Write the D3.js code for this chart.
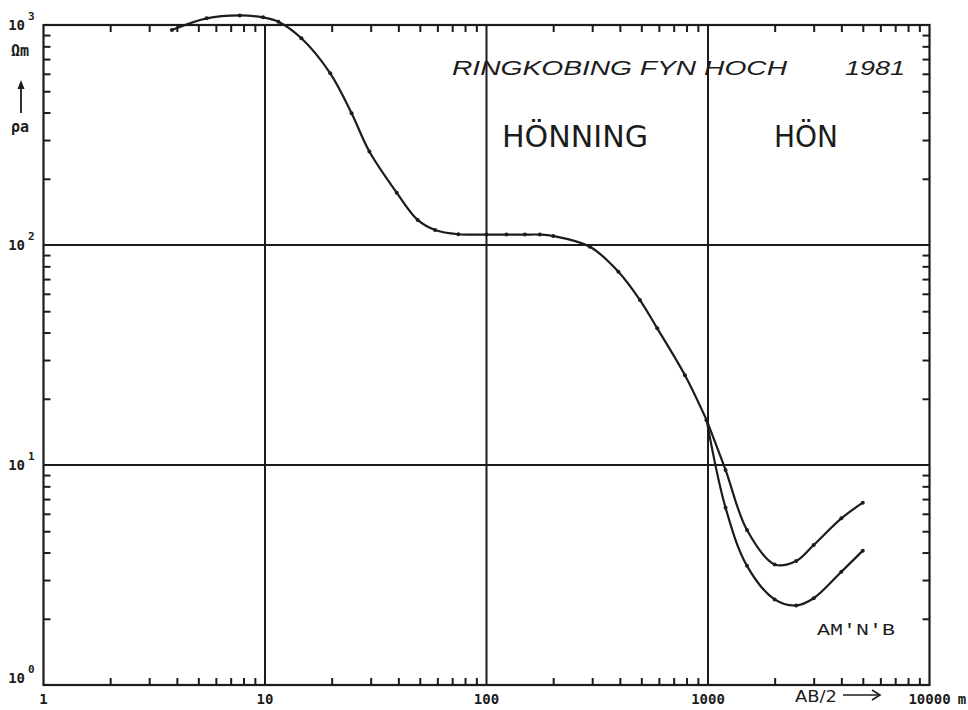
<!DOCTYPE html>
<html>
<head>
<meta charset="utf-8">
<script src="https://cdn.jsdelivr.net/npm/d3@7"></script>
<style>
  html, body { margin: 0; padding: 0; background: #ffffff; }
  svg { display: block; }
</style>
</head>
<body>
<svg id="chart" width="968" height="710"></svg>
<script>
// ---- data ----
const xDecades = [1, 10, 100, 1000, 10000];
const xDecadeLabels = ["1", "10", "100", "1000", "10000"];
const yDecades = [1, 10, 100, 1000];
const yDecadeExponents = ["0", "1", "2", "3"];

// common branch AB/2 (m) and apparent resistivity (Ohm m)
const mainX = [3.8, 5.45, 7.7, 9.8, 11.5, 14.6, 19.7, 24.6, 29.6, 39.3, 48.9, 58.6, 74.6, 100, 123, 149, 174, 200, 293, 394, 493, 590, 787, 986];
const mainY = [949, 1072, 1105, 1084, 1035, 870, 603, 397, 266, 173, 130, 117, 111.9, 111.5, 111.5, 111.5, 111.5, 109.9, 98.2, 75.6, 56.2, 41.8, 25.6, 16.0];

// upper branch after the split
const upperX = [1200, 1500, 2000, 2500, 3000, 4000, 5000];
const upperY = [9.5, 5.06, 3.53, 3.66, 4.33, 5.72, 6.74];

// lower branch after the split (AM'N'B)
const lowerX = [1200, 1500, 2000, 2500, 3000, 4000, 5000];
const lowerY = [6.4, 3.48, 2.45, 2.30, 2.48, 3.27, 4.08];

const titleText = "RINGKOBING FYN HOCH";
const yearText = "1981";
const leftLabel = "HÖNNING";
const rightLabel = "HÖN";
const curveLabel = "AM'N'B";
const xAxisTitle = "AB/2";
const xUnit = "m";
const yUnit = "Ωm";
const yAxisTitle = "ρa";

// ---- drawing ----
const ink = "#1c1c1c";
const svg = d3.select("#chart");

const x = d3.scaleLog().domain([1, 10000]).range([43.5, 929.5]);
const y = d3.scaleLog().domain([1, 1000]).range([685, 25]);

const [x0, x1] = x.range();
const [y0, y1] = y.range();

// minor ticks from the scales
const isDecade = v => Math.abs(Math.log10(v) - Math.round(Math.log10(v))) < 1e-9;
const xMinor = x.ticks().filter(v => !isDecade(v));
const yMinor = y.ticks().filter(v => !isDecade(v));

function styleAxis(g) {
  g.select(".domain").remove();
  g.selectAll(".tick line").attr("stroke", ink).attr("stroke-width", 2);
  g.selectAll(".tick text").remove();
}

svg.append("g").attr("transform", `translate(0,${y0})`)
  .call(d3.axisBottom(x).tickValues(xMinor).tickSize(-7).tickFormat(""))
  .call(styleAxis);
svg.append("g").attr("transform", `translate(0,${y1})`)
  .call(d3.axisTop(x).tickValues(xMinor).tickSize(-7).tickFormat(""))
  .call(styleAxis);
svg.append("g").attr("transform", `translate(${x0},0)`)
  .call(d3.axisLeft(y).tickValues(yMinor).tickSize(-7).tickFormat(""))
  .call(styleAxis);
svg.append("g").attr("transform", `translate(${x1},0)`)
  .call(d3.axisRight(y).tickValues(yMinor).tickSize(-7).tickFormat(""))
  .call(styleAxis);

// decade grid lines
svg.append("g").selectAll("line.v")
  .data(xDecades.slice(1, -1)).join("line")
  .attr("x1", d => x(d)).attr("x2", d => x(d))
  .attr("y1", y1).attr("y2", y0)
  .attr("stroke", ink).attr("stroke-width", 2);
svg.append("g").selectAll("line.h")
  .data(yDecades.slice(1, -1)).join("line")
  .attr("x1", x0).attr("x2", x1)
  .attr("y1", d => y(d)).attr("y2", d => y(d))
  .attr("stroke", ink).attr("stroke-width", 2);

// frame
svg.append("rect")
  .attr("x", x0).attr("y", y1)
  .attr("width", x1 - x0).attr("height", y0 - y1)
  .attr("fill", "none").attr("stroke", ink).attr("stroke-width", 2.2);

// tick labels
const tickFont = "'DejaVu Sans Mono', monospace";
svg.append("g").selectAll("text")
  .data(xDecades).join("text")
  .attr("x", d => x(d)).attr("y", 704)
  .attr("text-anchor", "middle")
  .attr("font-family", tickFont).attr("font-weight", "bold")
  .attr("font-size", 14).attr("fill", ink)
  .text((d, i) => xDecadeLabels[i]);
svg.append("text")
  .attr("x", 962).attr("y", 704).attr("text-anchor", "middle")
  .attr("font-family", tickFont).attr("font-weight", "bold")
  .attr("font-size", 14).attr("fill", ink).text(xUnit);

const yLab = svg.append("g").selectAll("g")
  .data(yDecades).join("g")
  .attr("transform", d => `translate(0,${Math.min(y(d) + 5, 683)})`);
yLab.append("text")
  .attr("x", 25).attr("y", 0).attr("text-anchor", "end")
  .attr("font-family", tickFont).attr("font-weight", "bold")
  .attr("font-size", 14).attr("fill", ink).text("10");
yLab.append("text")
  .attr("x", 28).attr("y", -10)
  .attr("font-family", tickFont).attr("font-weight", "bold")
  .attr("font-size", 11).attr("fill", ink)
  .text((d, i) => yDecadeExponents[i]);

// y axis title: unit, arrow, rho_a
svg.append("text").attr("x", 20).attr("y", 56).attr("text-anchor", "middle")
  .attr("font-family", tickFont).attr("font-weight", "bold")
  .attr("font-size", 15).attr("fill", ink).text(yUnit);
svg.append("line").attr("x1", 21).attr("x2", 21).attr("y1", 113).attr("y2", 86)
  .attr("stroke", ink).attr("stroke-width", 1.8);
svg.append("path").attr("d", "M21,80 L17.5,89 L24.5,89 Z").attr("fill", ink);
svg.append("text").attr("x", 20).attr("y", 132).attr("text-anchor", "middle")
  .attr("font-family", tickFont).attr("font-weight", "bold")
  .attr("font-size", 15).attr("fill", ink).text(yAxisTitle);

// x axis title with arrow
svg.append("text").attr("x", 795).attr("y", 702)
  .attr("font-family", "'DejaVu Sans', sans-serif").attr("font-size", 16)
  .attr("textLength", 42).attr("lengthAdjust", "spacingAndGlyphs")
  .attr("fill", ink).text(xAxisTitle);
svg.append("line").attr("x1", 843).attr("x2", 879).attr("y1", 695).attr("y2", 695)
  .attr("stroke", ink).attr("stroke-width", 1.6);
svg.append("path").attr("d", "M872,690 L880,695 L872,700").attr("fill", "none")
  .attr("stroke", ink).attr("stroke-width", 1.6);

// curves
const curveLine = d3.line()
  .x(d => x(d[0])).y(d => y(d[1]))
  .curve(d3.curveCatmullRom.alpha(0.5));

const mainPts = mainX.map((v, i) => [v, mainY[i]]);
const split = mainPts[mainPts.length - 1];
const upperPts = [split].concat(upperX.map((v, i) => [v, upperY[i]]));
const lowerPts = [split].concat(lowerX.map((v, i) => [v, lowerY[i]]));

[mainPts, upperPts, lowerPts].forEach(pts => {
  svg.append("path").datum(pts)
    .attr("d", curveLine)
    .attr("fill", "none").attr("stroke", ink)
    .attr("stroke-width", 2.2).attr("stroke-linejoin", "round");
  svg.append("g").selectAll("circle").data(pts).join("circle")
    .attr("cx", d => x(d[0])).attr("cy", d => y(d[1]))
    .attr("r", 2).attr("fill", ink);
});

// annotations
svg.append("text").attr("x", 452).attr("y", 75)
  .attr("font-family", "'Liberation Sans', sans-serif").attr("font-style", "italic")
  .attr("font-size", 20).attr("textLength", 335).attr("lengthAdjust", "spacingAndGlyphs")
  .attr("fill", ink).text(titleText);
svg.append("text").attr("x", 845).attr("y", 75)
  .attr("font-family", "'Liberation Sans', sans-serif").attr("font-style", "italic")
  .attr("font-size", 20).attr("textLength", 60).attr("lengthAdjust", "spacingAndGlyphs")
  .attr("fill", ink).text(yearText);
svg.append("text").attr("x", 502).attr("y", 147)
  .attr("font-family", "'DejaVu Sans', sans-serif")
  .attr("font-size", 31).attr("textLength", 146).attr("lengthAdjust", "spacingAndGlyphs")
  .attr("fill", ink).text(leftLabel);
svg.append("text").attr("x", 774).attr("y", 147)
  .attr("font-family", "'DejaVu Sans', sans-serif")
  .attr("font-size", 31).attr("textLength", 64).attr("lengthAdjust", "spacingAndGlyphs")
  .attr("fill", ink).text(rightLabel);
svg.append("text").attr("x", 817).attr("y", 635)
  .attr("font-family", "'Liberation Mono', monospace")
  .attr("font-size", 17).attr("textLength", 78).attr("lengthAdjust", "spacingAndGlyphs")
  .attr("fill", ink).text(curveLabel);
</script>
</body>
</html>
